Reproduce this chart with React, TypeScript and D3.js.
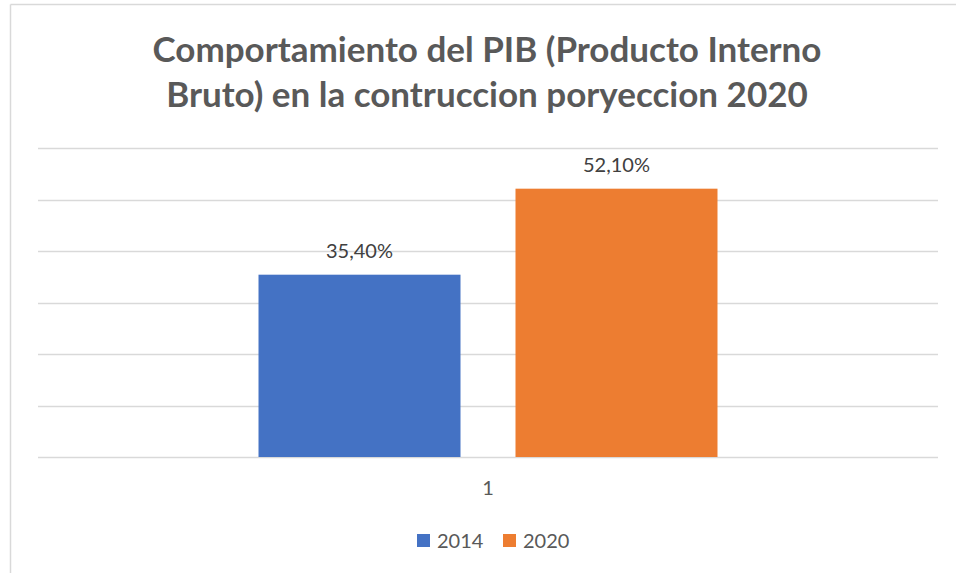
import { useEffect, useRef } from 'react'
import * as d3 from 'd3'

const categories = ['1']
const series = ['2014', '2020']
const values = [35.4, 52.1]
const colors = ['#4472c4', '#ed7d31']
const titleLines = ['Comportamiento del PIB (Producto Interno', 'Bruto) en la contruccion poryeccion 2020']
const yTicks = [0, 10, 20, 30, 40, 50, 60]

const fmt = (v: number) => v.toFixed(2).replace('.', ',') + '%'

export default function App() {
  const ref = useRef<SVGSVGElement | null>(null)

  useEffect(() => {
    const el = ref.current
    if (!el) return
    const svg = d3.select(el)
    svg.selectAll('*').remove()

    const width = 956
    const height = 573
    const font = 'Lato, "Open Sans", sans-serif'

    // chart frame (only top and left edges visible in the crop)
    svg.append('rect').attr('x', 0).attr('y', 0).attr('width', width).attr('height', height).attr('fill', '#fff')
    svg.append('line').attr('x1', 10.5).attr('x2', width).attr('y1', 4.5).attr('y2', 4.5)
      .attr('stroke', '#d9d9d9').attr('stroke-width', 1.5)
    svg.append('line').attr('x1', 10.5).attr('x2', 10.5).attr('y1', 4.5).attr('y2', height)
      .attr('stroke', '#d9d9d9').attr('stroke-width', 1.5)

    const title = svg.append('text').attr('text-anchor', 'middle')
      .attr('font-family', font).attr('font-weight', 700).attr('font-size', 35).attr('fill', '#595959')
    titleLines.forEach((t, i) => {
      title.append('tspan').attr('x', 487).attr('y', 62 + i * 45).text(t)
    })

    const m = { left: 38, right: 18, top: 148, bottom: 116 }
    const x0 = d3.scaleBand<string>().domain(categories).range([m.left, width - m.right])
    const x1 = d3.scaleBand<string>().domain(series).range([0, x0.bandwidth()])
      .paddingInner(0.214).paddingOuter(0.858)
    const y = d3.scaleLinear().domain([0, 60]).range([height - m.bottom, m.top])

    svg.append('g').selectAll('line').data(yTicks).join('line')
      .attr('x1', m.left).attr('x2', width - m.right)
      .attr('y1', d => Math.round(y(d)) + 0.5).attr('y2', d => Math.round(y(d)) + 0.5)
      .attr('stroke', '#d9d9d9').attr('stroke-width', 1.5)

    const g = svg.append('g').attr('transform', `translate(${x0(categories[0])},0)`)
    g.selectAll('rect').data(series).join('rect')
      .attr('x', s => x1(s) ?? 0)
      .attr('y', (_, i) => y(values[i]))
      .attr('width', x1.bandwidth())
      .attr('height', (_, i) => y(0) - y(values[i]))
      .attr('fill', (_, i) => colors[i])

    g.selectAll('text.lbl').data(series).join('text')
      .attr('class', 'lbl')
      .attr('x', s => (x1(s) ?? 0) + x1.bandwidth() / 2)
      .attr('y', (_, i) => y(values[i]) - 17)
      .attr('text-anchor', 'middle')
      .attr('font-family', font).attr('font-size', 20).attr('fill', '#404040')
      .text((_, i) => fmt(values[i]))

    svg.append('g').selectAll('text').data(categories).join('text')
      .attr('x', c => (x0(c) ?? 0) + x0.bandwidth() / 2)
      .attr('y', y(0) + 38)
      .attr('text-anchor', 'middle')
      .attr('font-family', font).attr('font-size', 20).attr('fill', '#595959')
      .text(c => c)

    const legend = svg.append('g').attr('transform', 'translate(417,534)')
    const lx = [0, 86]
    series.forEach((s, i) => {
      const item = legend.append('g').attr('transform', `translate(${lx[i]},0)`)
      item.append('rect').attr('width', 13).attr('height', 13).attr('fill', colors[i])
      item.append('text').attr('x', 20).attr('y', 13.5)
        .attr('font-family', font).attr('font-size', 20).attr('fill', '#595959').text(s)
    })
  }, [])

  return (
    <svg ref={ref} width={956} height={573}
      style={{ position: 'fixed', left: 0, top: 0, display: 'block' }} />
  )
}
